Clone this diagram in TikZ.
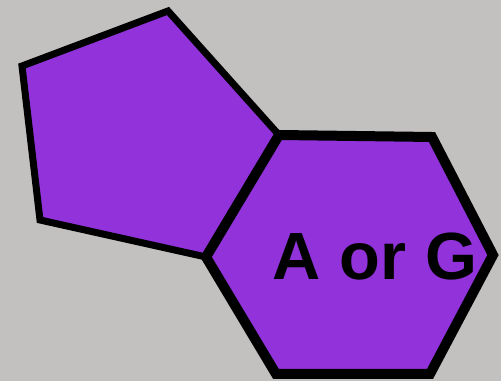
\documentclass[tikz,border=0pt]{standalone}
\usepackage{fontspec}
\usepackage{xcolor}
\usepackage{tikz}
\newfontfamily\labelfont{Liberation Sans}
\definecolor{bggray}{HTML}{C3C1C0}
\definecolor{ringpurple}{HTML}{9232DB}

\begin{document}
\begin{tikzpicture}[
  x=0.02cm, y=-0.02cm,
  ring/.style={draw=black, fill=ringpurple, line join=miter},
  pent/.style={ring, line width=0.14cm},
  hex/.style={ring, line width=0.2cm},
  base/.style={font=\labelfont\bfseries\fontsize{38}{40}\selectfont, inner sep=0pt}
]
% background
\fill[bggray] (0,0) rectangle (501,381);
\useasboundingbox (0,0) rectangle (501,381);
% shared corners
\coordinate (j1) at (279,135);
\coordinate (j2) at (206,257);
% five-membered ring
\draw[pent] (168,11) -- (22,66) -- (40,220) -- (j2) -- (j1) -- cycle;
% six-membered ring
\draw[hex] (j1) -- (432,137) -- (493,255) -- (430,374) -- (276,374) -- (j2) -- cycle;
\node[base] (purine) at (375,257) {A or G};
\end{tikzpicture}
\end{document}
